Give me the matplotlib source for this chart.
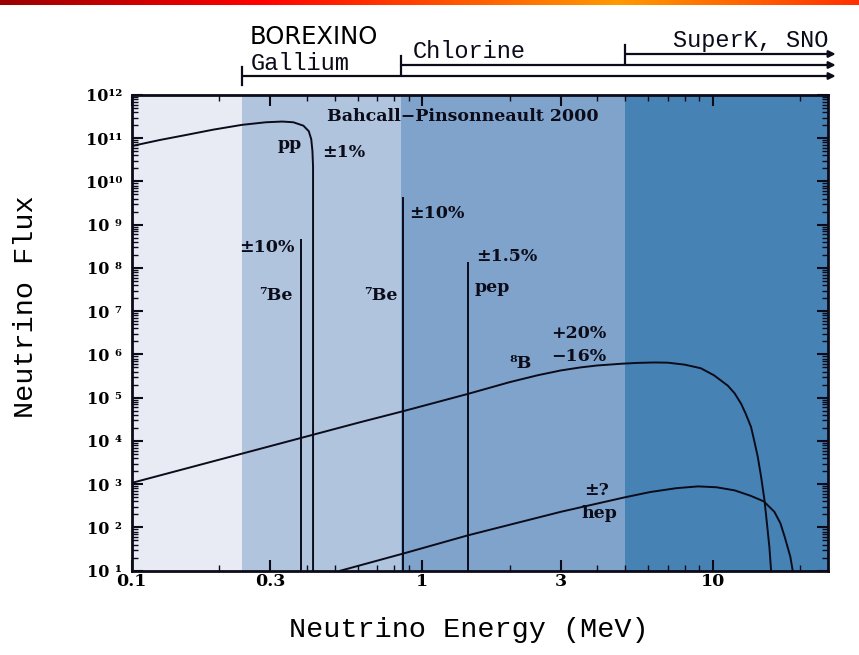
import numpy as np
import matplotlib.pyplot as plt
import matplotlib.transforms as mtransforms
from matplotlib.colors import LinearSegmentedColormap
from matplotlib.ticker import FixedLocator, LogLocator, NullFormatter

# espectro continuo pp
pp_E = [0.1, 0.125, 0.155, 0.191, 0.24, 0.29, 0.33, 0.36, 0.39, 0.407, 0.415,
        0.419, 0.421, 0.421]
pp_flux = [6.6e10, 9.1e10, 1.2e11, 1.58e11, 2.04e11, 2.34e11, 2.43e11, 2.34e11,
           1.95e11, 1.45e11, 9.5e10, 5.0e10, 2.2e10, 10]

# espectro continuo 8B
b8_E = [0.1, 0.24, 0.3, 0.61, 0.862, 1.44, 2.0, 2.5, 3.0, 3.5, 4.0, 4.84, 5.5,
        6.3, 7.0, 8.0, 9.1, 10.1, 11.27, 11.9, 12.53, 13.0, 13.55, 13.9, 14.29,
        14.67, 15.07, 15.37, 15.67, 15.9]
b8_flux = [1.07e3, 5.1e3, 7.6e3, 2.7e4, 4.9e4, 1.23e5, 2.29e5, 3.31e5, 4.27e5,
           5.01e5, 5.56e5, 6.1e5, 6.38e5, 6.53e5, 6.46e5, 5.82e5, 4.8e5, 3.3e5,
           1.9e5, 1.26e5, 7.2e4, 4.2e4, 2.1e4, 1.0e4, 4.3e3, 1.5e3, 430, 123,
           35, 9]

# espectro continuo hep
hep_E = [0.523, 0.862, 1.44, 3.0, 4.1, 5.0, 6.1, 7.5, 8.9, 10.3, 11.9, 13.5,
         15.0, 16.3, 17.1, 17.7, 18.5, 18.9]
hep_flux = [10, 25, 66, 230, 370, 500, 660, 810, 890, 850, 720, 540, 400, 230,
            125, 60, 21, 9]

# lineas 7Be y pep
line_E = [0.384, 0.862, 1.442]
line_flux = [4.6e8, 4.3e9, 1.34e8]

# umbrales de los detectores (bandas de fondo)
band_edges = [0.1, 0.24, 0.845, 5.0, 25]
band_colors = ['#e8ebf4', '#b0c4de', '#7fa3ca', '#4682b4']

xticks = [0.1, 0.3, 1, 3, 10]
xtick_labels = ['0.1', '0.3', '1', '3', '10']
yticks = [10.0 ** k for k in range(1, 13)]
ytick_labels = ['10 ¹', '10 ²', '10 ³', '10 ⁴', '10 ⁵', '10 ⁶', '10 ⁷', '10 ⁸',
                '10 ⁹', '10¹⁰', '10¹¹', '10¹²']

ink = '#0b0b1a'
serif_b = dict(family='DejaVu Serif', fontweight='bold')
mono = dict(family='Liberation Mono')

fig = plt.figure(figsize=(8.59, 6.55), dpi=100)
ax = fig.add_axes([0.1533, 0.1287, 0.811, 0.7263])

for i in range(len(band_colors)):
    ax.axvspan(band_edges[i], band_edges[i + 1], color=band_colors[i], lw=0, zorder=0)

ax.plot(pp_E, pp_flux, color=ink, lw=1.4)
ax.plot(b8_E, b8_flux, color=ink, lw=1.4)
ax.plot(hep_E, hep_flux, color=ink, lw=1.4)
ax.vlines(line_E, 10, line_flux, color=ink, lw=1.4)

ax.set_xscale('log')
ax.set_yscale('log')
ax.set_xlim(0.1, 25)
ax.set_ylim(10, 1e12)

ax.xaxis.set_major_locator(FixedLocator(xticks))
ax.set_xticklabels(xtick_labels, fontsize=12.5, **serif_b)
ax.xaxis.set_minor_locator(LogLocator(subs=[2, 3, 4, 5, 6, 7, 8, 9]))
ax.xaxis.set_minor_formatter(NullFormatter())
ax.yaxis.set_major_locator(FixedLocator(yticks))
ax.set_yticklabels(ytick_labels, fontsize=11.5, **serif_b)
ax.yaxis.set_minor_locator(LogLocator(subs=np.arange(2, 10), numticks=20))
ax.yaxis.set_minor_formatter(NullFormatter())
ax.tick_params(which='both', direction='in', top=True, right=True, color=ink)
ax.tick_params(which='major', length=8, width=1.5)
ax.tick_params(axis='x', which='major', pad=2)
ax.tick_params(axis='y', which='major', pad=7)
ax.tick_params(which='minor', length=4, width=1)
for s in ax.spines.values():
    s.set_linewidth(2)
    s.set_color(ink)

ax.set_xlabel('Neutrino Energy (MeV)', fontsize=20.5, va='center', **mono)
ax.xaxis.set_label_coords(0.484, -0.125)
ax.set_ylabel('Neutrino Flux', fontsize=20.5, va='center', **mono)
ax.yaxis.set_label_coords(-0.152, 0.556)

# etiquetas de cada fuente
lab = dict(fontsize=12.5, color=ink, va='center', **serif_b)
ax.text(0.471, 3.2e11, 'Bahcall\u2212Pinsonneault 2000', **lab)
ax.text(0.384, 7.3e10, 'pp', ha='right', **lab)
ax.text(0.452, 4.6e10, '±1%', **lab)
ax.text(0.364, 2.9e8, '±10%', ha='right', **lab)
ax.text(0.357, 2.3e7, '⁷Be', ha='right', **lab)
ax.text(0.822, 2.3e7, '⁷Be', ha='right', **lab)
ax.text(0.902, 1.8e9, '±10%', **lab)
ax.text(1.53, 1.8e8, '±1.5%', **lab)
ax.text(1.52, 3.5e7, 'pep', **lab)
ax.text(2.77, 3.0e6, '+20%', **lab)
ax.text(2.77, 8.9e5, '\u221216%', **lab)
ax.text(2.0, 6.2e5, '⁸B', **lab)
ax.text(3.6, 720, '±?', **lab)
ax.text(3.54, 205, 'hep', **lab)

# rangos de los experimentos sobre el eje
top = mtransforms.blended_transform_factory(ax.transData, fig.transFigure)
H = 655.0
experiments = [(0.24, 76, 'Gallium', 0.256, 63),
               (0.845, 65, 'Chlorine', 0.926, 52),
               (5.0, 54, 'SuperK, SNO', 25, 40)]
for x0, ypx, name, xt, ytpx in experiments:
    y = 1 - ypx / H
    ax.annotate('', xy=(26.5, y), xytext=(x0, y), xycoords=top, textcoords=top,
                arrowprops=dict(arrowstyle='-|>', color=ink, lw=1.6,
                                mutation_scale=10, shrinkA=0, shrinkB=0))
    ax.plot([x0, x0], [y - 9 / H, y + 9 / H], color=ink, lw=1.6,
            transform=top, clip_on=False)
    ha = 'right' if name.startswith('SuperK') else 'left'
    ax.text(xt, 1 - ytpx / H, name, transform=top, ha=ha, va='center',
            fontsize=17, color=ink, **mono)
ax.text(0.254, 1 - 37 / H, 'BOREXINO', transform=top, ha='left', va='center',
        fontsize=17.5, color='black', family='DejaVu Sans')

# franja de color en el borde superior
cmap = LinearSegmentedColormap.from_list(
    'franja', [(0, '#9a0000'), (0.3, '#ff0000'), (0.72, '#ff9a00'), (1, '#ff3000')])
band_ax = fig.add_axes([0, 1 - 5 / H, 1, 5 / H])
band_ax.imshow(np.linspace(0, 1, 512)[None, :], aspect='auto', cmap=cmap)
band_ax.axis('off')

fig.savefig('out.png', dpi=100)
